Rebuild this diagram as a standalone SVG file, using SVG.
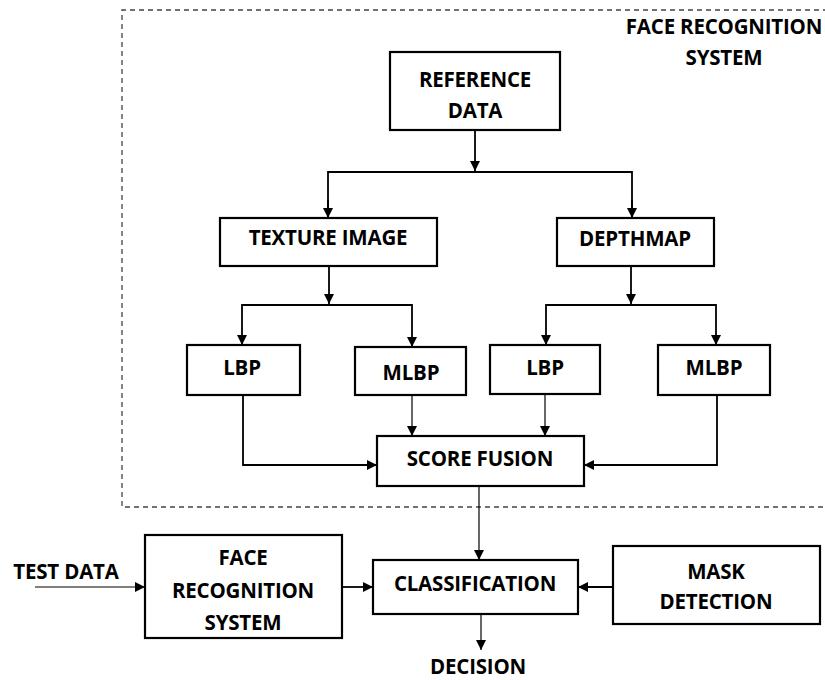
<svg xmlns="http://www.w3.org/2000/svg" width="825" height="680" viewBox="0 0 825 680">
<style>
.box{fill:#fff;stroke:#000;stroke-width:2.2}
.t{font-family:"Open Sans","Liberation Sans",sans-serif;font-weight:bold;font-size:20.5px;text-anchor:middle;fill:#000;letter-spacing:-0.2px}
.c{fill:none;stroke:#000;stroke-width:1.8}
.thin{fill:none;stroke:#000;stroke-width:1.2}
</style>
<defs>
<marker id="ah" viewBox="0 0 10 10" refX="10" refY="5" markerWidth="10" markerHeight="10" markerUnits="userSpaceOnUse" orient="auto">
<path d="M0,0 L10,5 L0,10 Z" fill="#000"/>
</marker>
</defs>
<rect x="0" y="0" width="825" height="680" fill="#fff"/>
<g id="frs-boundary">
<path d="M828,10 L122,10 L122,507 L828,507" fill="none" stroke="#444" stroke-width="1.3" stroke-dasharray="5,4"/>
<text class="t" x="724" y="34">FACE RECOGNITION</text>
<text class="t" x="724" y="65">SYSTEM</text>
</g>
<g id="connectors">
<path class="c" d="M475,130 V171" marker-end="url(#ah)"/>
<path class="c" d="M328,218 V172 H632 V218" />
<path class="c" d="M328,200 V218" marker-end="url(#ah)"/>
<path class="c" d="M632,200 V218" marker-end="url(#ah)"/>
<path class="c" d="M329,266 V304" marker-end="url(#ah)"/>
<path class="c" d="M242,330 V305 H412 V330"/>
<path class="c" d="M242,330 V345" marker-end="url(#ah)"/>
<path class="c" d="M412,330 V347" marker-end="url(#ah)"/>
<path class="c" d="M631,266 V304" marker-end="url(#ah)"/>
<path class="c" d="M546,330 V305 H716 V330"/>
<path class="c" d="M546,330 V345" marker-end="url(#ah)"/>
<path class="c" d="M716,330 V345" marker-end="url(#ah)"/>
<path class="c" d="M243,395 V465 H377" marker-end="url(#ah)"/>
<path class="thin" d="M412,395 V436" marker-end="url(#ah)"/>
<path class="thin" d="M545,394 V436" marker-end="url(#ah)"/>
<path class="c" d="M717,395 V465 H584" marker-end="url(#ah)"/>
<path class="thin" d="M479,486 V560" marker-end="url(#ah)"/>
<path class="thin" d="M35,587 H145" marker-end="url(#ah)"/>
<path class="c" d="M342,587 H373" marker-end="url(#ah)"/>
<path class="c" d="M613,587 H578" marker-end="url(#ah)"/>
<path class="thin" d="M481,614 V650" marker-end="url(#ah)"/>
</g>
<g id="reference-data">
<rect class="box" x="390" y="52" width="170" height="78"/>
<text class="t" x="475" y="87">REFERENCE</text>
<text class="t" x="475" y="118">DATA</text>
</g>
<g id="texture-image">
<rect class="box" x="220" y="218" width="217" height="48"/>
<text class="t" x="328" y="245">TEXTURE IMAGE</text>
</g>
<g id="depthmap">
<rect class="box" x="557" y="218" width="157" height="48"/>
<text class="t" x="635" y="246">DEPTHMAP</text>
</g>
<g id="lbp1">
<rect class="box" x="187" y="345" width="113" height="50"/>
<text class="t" x="242" y="375">LBP</text>
</g>
<g id="mlbp1">
<rect class="box" x="355" y="347" width="111" height="48"/>
<text class="t" x="411" y="380">MLBP</text>
</g>
<g id="lbp2">
<rect class="box" x="490" y="345" width="110" height="49"/>
<text class="t" x="545" y="375">LBP</text>
</g>
<g id="mlbp2">
<rect class="box" x="658" y="345" width="112" height="50"/>
<text class="t" x="714" y="375">MLBP</text>
</g>
<g id="score-fusion">
<rect class="box" x="377" y="436" width="207" height="50"/>
<text class="t" x="480" y="466">SCORE FUSION</text>
</g>
<g id="test-data">
<text class="t" x="66" y="579">TEST DATA</text>
</g>
<g id="face-recognition-system">
<rect class="box" x="145" y="535" width="197" height="103"/>
<text class="t" x="243" y="565">FACE</text>
<text class="t" x="243" y="598">RECOGNITION</text>
<text class="t" x="243" y="630">SYSTEM</text>
</g>
<g id="classification">
<rect class="box" x="373" y="560" width="205" height="54"/>
<text class="t" x="475" y="591">CLASSIFICATION</text>
</g>
<g id="mask-detection">
<rect class="box" x="613" y="546" width="207" height="78"/>
<text class="t" x="716" y="579">MASK</text>
<text class="t" x="716" y="609">DETECTION</text>
</g>
<g id="decision">
<text class="t" x="478" y="674">DECISION</text>
</g>
</svg>
